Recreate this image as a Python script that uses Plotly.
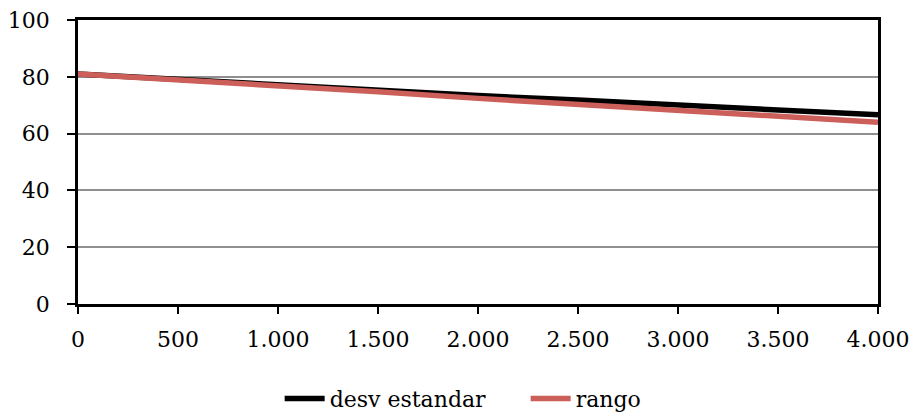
import plotly.graph_objects as go

# Sample sizes (x) and the two estimates
muestras = [0, 500, 1000, 1500, 2000, 2500, 3000, 3500, 4000]
desv_estandar = [81.0, 79.0, 77.1, 75.2, 73.4, 71.8, 70.1, 68.3, 66.6]
rango = [81.0, 79.0, 77.0, 74.7, 72.4, 70.4, 68.3, 66.3, 64.0]

x_ticks = [0, 500, 1000, 1500, 2000, 2500, 3000, 3500, 4000]
y_ticks = [0, 20, 40, 60, 80, 100]

FONT = "DejaVu Serif"

fig = go.Figure()
fig.add_trace(go.Scatter(
    x=muestras, y=desv_estandar, mode="lines", name="desv estandar",
    line=dict(color="#000000", width=5.5),
))
fig.add_trace(go.Scatter(
    x=muestras, y=rango, mode="lines", name="rango",
    line=dict(color="#CD5F5A", width=5.5),
))

fig.update_layout(
    width=911, height=412,
    margin=dict(l=78, r=33, t=20, b=108),
    paper_bgcolor="white", plot_bgcolor="white",
    separators=",.",
    font=dict(family=FONT, size=22, color="#000000"),
    showlegend=True,
    legend=dict(
        orientation="h",
        xref="container", x=0.577, xanchor="center",
        yref="container", y=0.032, yanchor="middle",
        font=dict(family=FONT, size=22, color="#000000"),
        itemwidth=40, tracegroupgap=0, entrywidth=191,
        bgcolor="rgba(0,0,0,0)",
    ),
)

fig.update_xaxes(
    range=[0, 4000], tickvals=x_ticks, tickformat=",",
    showgrid=False, zeroline=False, automargin=False,
    showline=True, linecolor="#000000", linewidth=2.5, mirror=True,
    ticks="outside", ticklen=7, tickwidth=2, tickcolor="#000000",
    ticklabelstandoff=7,
)
fig.update_yaxes(
    range=[0, 100], tickvals=y_ticks, automargin=False,
    showgrid=True, gridcolor="#8f8f8f", gridwidth=2, zeroline=False,
    showline=True, linecolor="#000000", linewidth=2.5, mirror=True,
    ticks="outside", ticklen=8, tickwidth=2, tickcolor="#000000",
    ticklabelstandoff=13,
)

fig.write_html("out.html")
